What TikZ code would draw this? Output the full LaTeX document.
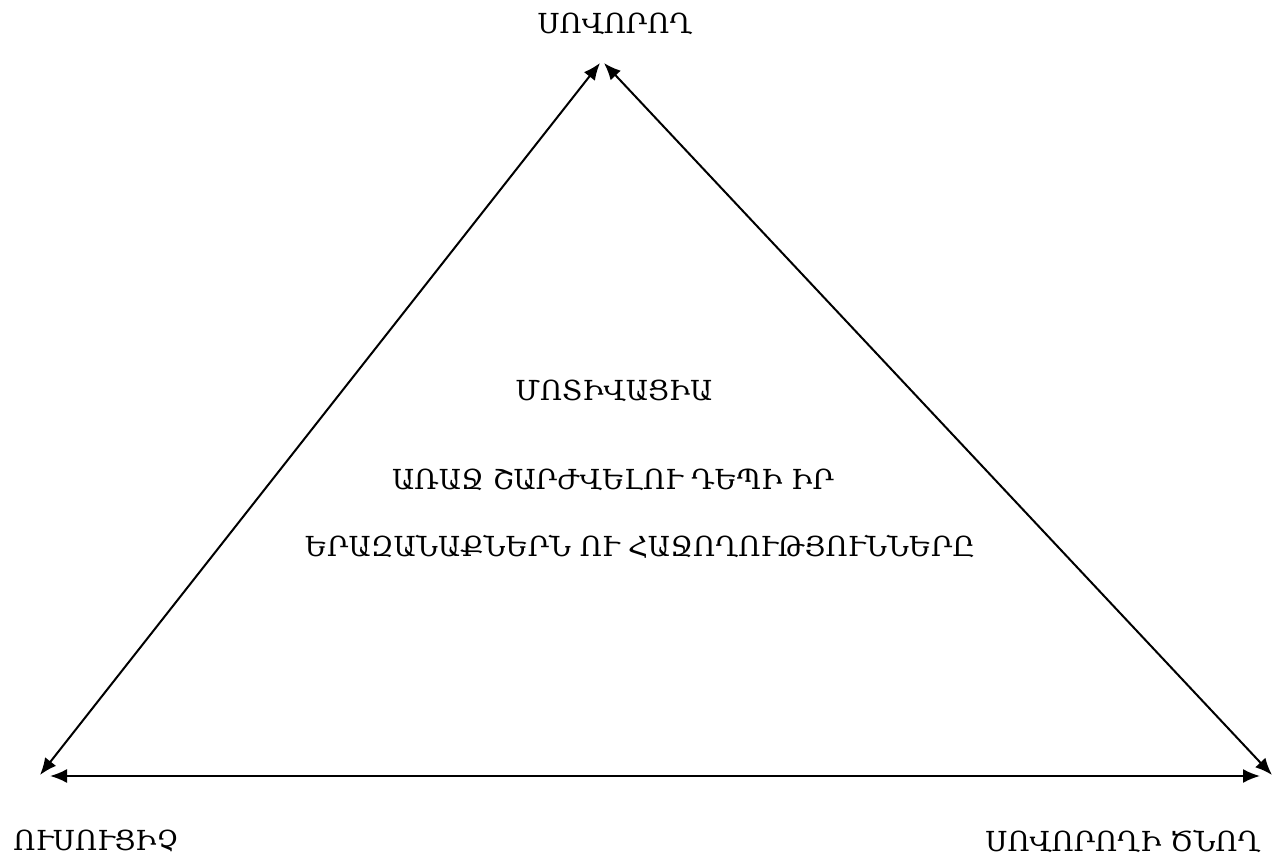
\documentclass[tikz,border=0pt]{standalone}
\usepackage{fontspec}
\setmainfont{DejaVu Serif}
\usetikzlibrary{arrows.meta}
\tikzset{
  side/.style={{Latex[length=8.5pt,width=7pt]}-{Latex[length=8.5pt,width=7pt]},line width=1pt},
  lbl/.style={inner sep=0pt,font=\fontsize{13.8}{16}\selectfont}
}

\begin{document}
\begin{tikzpicture}[x=0.5pt,y=-0.5pt]
  \useasboundingbox (0,0) rectangle (1286,861);

  % corners of the triangle
  \coordinate (topL) at (600,63);
  \coordinate (topR) at (604,63);
  \coordinate (bl) at (40,775);
  \coordinate (br) at (1272,775);
  \coordinate (hl) at (50,776);
  \coordinate (hr) at (1260,776);

  % labels at the corners
  \node[lbl] (student) at (615,24) {ՍՈՎՈՐՈՂ};
  \node[lbl] (teacher) at (96,841) {ՈՒՍՈՒՑԻՉ};
  \node[lbl] (parent) at (1123,841) {ՍՈՎՈՐՈՂԻ ԾՆՈՂ};

  % text inside
  \node[lbl] (motiv) at (614,391) {ՄՈՏԻՎԱՑԻԱ};
  \node[lbl] (line1) at (613,480) {ԱՌԱՋ ՇԱՐԺՎԵԼՈՒ ԴԵՊԻ ԻՐ};
  \node[lbl] (line2) at (640,547) {ԵՐԱԶԱՆԱՔՆԵՐՆ ՈՒ ՀԱՋՈՂՈՒԹՅՈՒՆՆԵՐԸ};

  % sides
  \draw[side] (bl) -- (topL);
  \draw[side] (br) -- (topR);
  \draw[side] (hl) -- (hr);
\end{tikzpicture}
\end{document}
